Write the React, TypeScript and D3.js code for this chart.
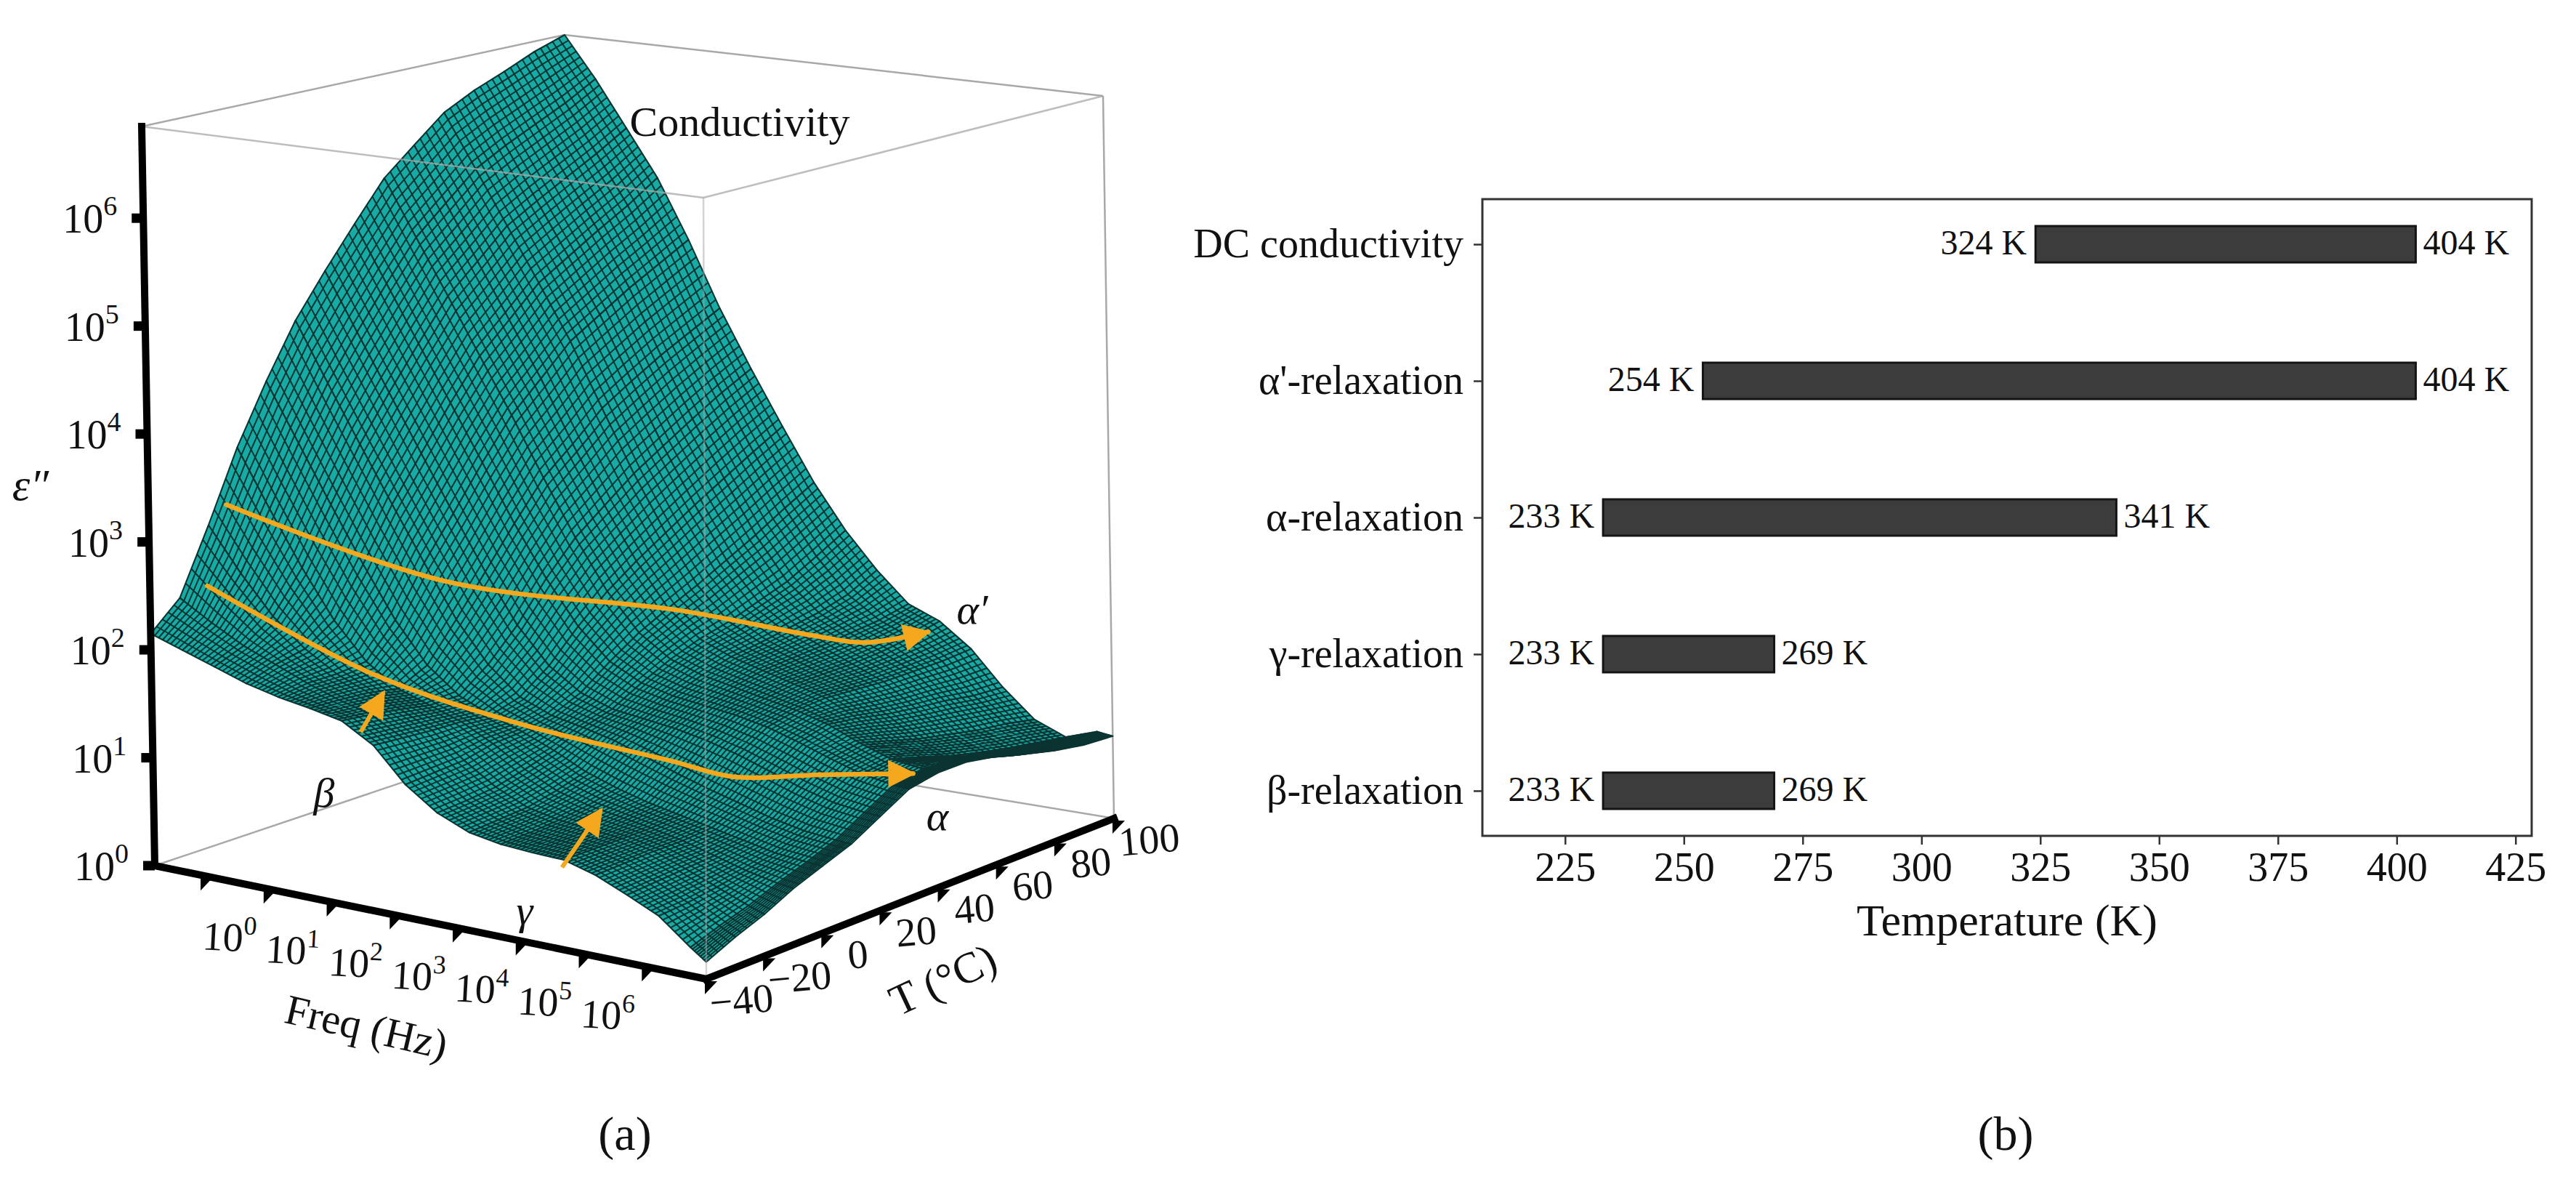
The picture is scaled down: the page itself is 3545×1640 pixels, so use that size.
import React, { useEffect, useRef } from 'react';
import * as d3 from 'd3';

// ---------- (a) loss surface: log10(eps'') over log10(freq) x temperature ----------
const logFreqs = [-1.75, -1.25, -0.75, -0.25, 0.25, 0.75, 1.25, 1.75, 2.25, 2.75, 3.25, 3.75, 4.25, 4.75, 5.25, 5.75, 6.25, 6.75, 7.0];
const temps = [-40, -30, -20, -10, 0, 10, 20, 30, 40, 50, 60, 70, 80, 90, 100];
// one row per temperature, one value per frequency column
const logEps: number[][] = [
  [2.15, 2.05, 1.95, 1.85, 1.78, 1.73, 1.67, 1.5, 1.2, 1.0, 0.88, 0.83, 0.81, 0.8, 0.72, 0.6, 0.47, 0.25, 0.15],
  [2.4, 2.22, 2.06, 1.94, 1.82, 1.72, 1.64, 1.48, 1.22, 1.02, 0.9, 0.84, 0.82, 0.8, 0.73, 0.62, 0.49, 0.34, 0.27],
  [3.0, 2.6, 2.25, 2.0, 1.82, 1.7, 1.6, 1.46, 1.24, 1.05, 0.92, 0.86, 0.83, 0.8, 0.74, 0.64, 0.53, 0.42, 0.37],
  [3.65, 3.12, 2.62, 2.18, 1.85, 1.65, 1.55, 1.45, 1.3, 1.12, 0.98, 0.9, 0.85, 0.8, 0.74, 0.66, 0.58, 0.52, 0.5],
  [4.2, 3.66, 3.13, 2.62, 2.15, 1.78, 1.55, 1.42, 1.32, 1.2, 1.06, 0.96, 0.88, 0.82, 0.76, 0.7, 0.64, 0.61, 0.6],
  [4.7, 4.15, 3.62, 3.1, 2.6, 2.12, 1.75, 1.5, 1.38, 1.32, 1.25, 1.15, 1.05, 0.96, 0.88, 0.8, 0.74, 0.71, 0.7],
  [5.1, 4.56, 4.03, 3.5, 2.98, 2.48, 2.03, 1.7, 1.5, 1.4, 1.36, 1.32, 1.26, 1.18, 1.08, 0.98, 0.9, 0.86, 0.85],
  [5.48, 4.95, 4.42, 3.9, 3.38, 2.85, 2.38, 1.98, 1.7, 1.55, 1.48, 1.44, 1.4, 1.34, 1.25, 1.15, 1.06, 1.01, 1.0],
  [5.85, 5.32, 4.8, 4.27, 3.75, 3.2, 2.68, 2.22, 1.88, 1.68, 1.58, 1.52, 1.46, 1.4, 1.32, 1.2, 1.1, 1.06, 1.05],
  [6.1, 5.58, 5.06, 4.54, 4.02, 3.44, 2.9, 2.42, 2.02, 1.78, 1.66, 1.58, 1.5, 1.42, 1.28, 1.12, 1.02, 1.03, 1.05],
  [6.35, 5.84, 5.33, 4.82, 4.3, 3.7, 3.12, 2.6, 2.15, 1.85, 1.7, 1.6, 1.5, 1.4, 1.22, 1.04, 0.93, 0.96, 1.0],
  [6.5, 6.0, 5.5, 5.0, 4.48, 3.88, 3.3, 2.78, 2.3, 1.95, 1.75, 1.62, 1.5, 1.38, 1.18, 0.98, 0.86, 0.88, 0.92],
  [6.62, 6.14, 5.66, 5.18, 4.66, 4.05, 3.48, 2.95, 2.45, 2.05, 1.8, 1.65, 1.52, 1.38, 1.15, 0.92, 0.8, 0.83, 0.85],
  [6.75, 6.28, 5.82, 5.35, 4.82, 4.2, 3.65, 3.12, 2.62, 2.2, 1.88, 1.68, 1.56, 1.38, 1.1, 0.88, 0.75, 0.8, 0.8],
  [6.85, 6.45, 6.0, 5.55, 4.98, 4.35, 3.8, 3.28, 2.78, 2.36, 2.02, 1.74, 1.62, 1.4, 1.08, 0.82, 0.7, 0.8, 0.78],
];

const freqTicks = [-1, 0, 1, 2, 3, 4, 5, 6];
const freqLabels = [0, 1, 2, 3, 4, 5, 6];
const tempLabels3d = [-40, -20, 0, 20, 40, 60, 80, 100];
const epsTicks = [0, 1, 2, 3, 4, 5, 6];

// annotation paths on the surface: [log10 f, T]
const alphaPrimePath: [number, number][] = [[-1.65, -16], [0.5, 12], [2.36, 52], [3.54, 72], [4.0, 80], [4.3, 95]];
const alphaPath: [number, number][] = [[-1.5, -26], [0.45, -12], [2.1, 2], [4.05, 12], [4.9, 15], [5.8, 25], [6.74, 37]];
// short arrows: [log10 f, T, log10 eps''] tail -> tip
const betaArrow: [number, number, number][] = [[1.55, -40, 1.6], [1.27, -26, 1.81]];
const gammaArrow: [number, number, number][] = [[4.72, -40, 0.73], [4.7, -26, 1.11]];

// ---------- (b) temperature ranges ----------
const processes = ['DC conductivity', "α'-relaxation", 'α-relaxation', 'γ-relaxation', 'β-relaxation'];
const startK = [324, 254, 233, 233, 233];
const endK = [404, 404, 341, 269, 269];
const kelvinTicks = [225, 250, 275, 300, 325, 350, 375, 400, 425];

// screen corners of the 3D box (bottom / top)
const BOX = {
  BL: [213, 1191], BF: [972, 1347], BB: [778, 1001], BR: [1533, 1126],
  TL: [195, 174], TF: [968, 272], TB: [777, 48], TR: [1518, 132],
};

const SERIF = "'Liberation Serif', 'Times New Roman', serif";
const TEAL = '#16aca5';
const MESH = '#0a3331';
const YELLOW = '#f5a81e';

type Sel = d3.Selection<SVGSVGElement, unknown, null, undefined>;

function drawSurface(svg: Sel) {
  const uS = d3.scaleLinear([-1.75, 7], [0, 1]);
  const vS = d3.scaleLinear([-40, 100], [0, 1]);
  const wS = d3.scaleLinear([0, 6.85], [0, 1]);

  const bil = (p00: number[], p10: number[], p01: number[], p11: number[], a: number, b: number) => [
    p00[0] * (1 - a) * (1 - b) + p10[0] * a * (1 - b) + p01[0] * (1 - a) * b + p11[0] * a * b,
    p00[1] * (1 - a) * (1 - b) + p10[1] * a * (1 - b) + p01[1] * (1 - a) * b + p11[1] * a * b,
  ];
  const project = (lf: number, t: number, le: number): [number, number] => {
    const a = uS(lf), b = vS(t), c = wS(le);
    const lo = bil(BOX.BL, BOX.BF, BOX.BB, BOX.BR, a, b);
    const hi = bil(BOX.TL, BOX.TF, BOX.TB, BOX.TR, a, b);
    return [lo[0] + c * (hi[0] - lo[0]), lo[1] + c * (hi[1] - lo[1])];
  };
  // height on the surface, used only to lay the annotation curves onto it
  const surfaceAt = (lf: number, t: number) => {
    const j = Math.max(0, Math.min(logFreqs.length - 2, d3.bisectRight(logFreqs, lf) - 1));
    const i = Math.max(0, Math.min(temps.length - 2, d3.bisectRight(temps, t) - 1));
    const a = (lf - logFreqs[j]) / (logFreqs[j + 1] - logFreqs[j]);
    const b = (t - temps[i]) / (temps[i + 1] - temps[i]);
    return logEps[i][j] * (1 - a) * (1 - b) + logEps[i][j + 1] * a * (1 - b) + logEps[i + 1][j] * (1 - a) * b + logEps[i + 1][j + 1] * a * b;
  };

  const g = svg.append('g');
  const P = (p: [number, number]) => `${p[0].toFixed(1)},${p[1].toFixed(1)}`;

  // back edges of the box
  const boxLine = (a: number[], b: number[], op = 1) =>
    g.append('line').attr('x1', a[0]).attr('y1', a[1]).attr('x2', b[0]).attr('y2', b[1])
      .attr('stroke', '#a8a8a8').attr('stroke-width', 2.5).attr('opacity', op);
  boxLine(BOX.TL, BOX.TB);
  boxLine(BOX.TB, BOX.TR);
  boxLine(BOX.TR, BOX.BR);
  boxLine(BOX.TB, BOX.BB);
  boxLine(BOX.BL, BOX.BB);
  boxLine(BOX.BB, BOX.BR);

  // surface cells, painted back to front
  const cells: { i: number; j: number; depth: number }[] = [];
  for (let i = 0; i < temps.length - 1; i++) {
    for (let j = 0; j < logFreqs.length - 1; j++) {
      const uc = (uS(logFreqs[j]) + uS(logFreqs[j + 1])) / 2;
      const vc = (vS(temps[i]) + vS(temps[i + 1])) / 2;
      cells.push({ i, j, depth: (1 - uc) * 1.15 + vc });
    }
  }
  cells.sort((a, b) => b.depth - a.depth);

  const NF = 8, NT = 5;
  const sg = g.append('g');
  cells.forEach(({ i, j }) => {
    const f0 = logFreqs[j], f1 = logFreqs[j + 1], t0 = temps[i], t1 = temps[i + 1];
    const z00 = logEps[i][j], z01 = logEps[i][j + 1], z10 = logEps[i + 1][j], z11 = logEps[i + 1][j + 1];
    const quad = [project(f0, t0, z00), project(f1, t0, z01), project(f1, t1, z11), project(f0, t1, z10)];
    sg.append('path')
      .attr('d', 'M' + quad.map(P).join('L') + 'Z')
      .attr('fill', TEAL).attr('stroke', MESH).attr('stroke-width', 2.1).attr('stroke-linejoin', 'round');
    let d = '';
    for (let k = 1; k < NF; k++) {
      const s = k / NF, lf = f0 + s * (f1 - f0);
      d += `M${P(project(lf, t0, z00 + s * (z01 - z00)))}L${P(project(lf, t1, z10 + s * (z11 - z10)))}`;
    }
    for (let k = 1; k < NT; k++) {
      const s = k / NT, t = t0 + s * (t1 - t0);
      d += `M${P(project(f0, t, z00 + s * (z10 - z00)))}L${P(project(f1, t, z01 + s * (z11 - z01)))}`;
    }
    sg.append('path').attr('d', d).attr('fill', 'none').attr('stroke', MESH).attr('stroke-width', 2);
  });

  // front edges of the box, seen through
  boxLine(BOX.TL, BOX.TF, 0.75);
  boxLine(BOX.TF, BOX.TR, 0.75);
  boxLine(BOX.TF, BOX.BF, 0.5);

  // annotation arrows
  const defs = svg.append('defs');
  defs.append('marker').attr('id', 'arrY').attr('viewBox', '0 0 10 10').attr('refX', 9).attr('refY', 5)
    .attr('markerUnits', 'userSpaceOnUse').attr('markerWidth', 46).attr('markerHeight', 38).attr('orient', 'auto')
    .append('path').attr('d', 'M0,0L10,5L0,10Z').attr('fill', YELLOW);
  const curve = d3.line<[number, number]>().curve(d3.curveCatmullRom.alpha(0.5));
  [alphaPrimePath, alphaPath].forEach((path) => {
    const pts = path.map(([lf, t]) => project(lf, t, surfaceAt(lf, t)));
    g.append('path').attr('d', curve(pts)).attr('fill', 'none').attr('stroke', YELLOW)
      .attr('stroke-width', 6.5).attr('stroke-linecap', 'round').attr('marker-end', 'url(#arrY)');
  });
  [betaArrow, gammaArrow].forEach((arr) => {
    const pts = arr.map(([lf, t, le]) => project(lf, t, le));
    g.append('path').attr('d', d3.line()(pts)).attr('fill', 'none').attr('stroke', YELLOW)
      .attr('stroke-width', 6).attr('marker-end', 'url(#arrY)');
  });

  // thick axes
  const axisLine = (a: number[], b: number[]) =>
    g.append('line').attr('x1', a[0]).attr('y1', a[1]).attr('x2', b[0]).attr('y2', b[1])
      .attr('stroke', '#000').attr('stroke-width', 10).attr('stroke-linecap', 'square');
  axisLine(BOX.BL, BOX.TL);
  axisLine(BOX.BL, BOX.BF);
  axisLine(BOX.BF, BOX.BR);

  // eps'' axis
  epsTicks.forEach((k) => {
    const [x, y] = project(-1.75, -40, k);
    g.append('line').attr('x1', x).attr('y1', y).attr('x2', x - 16).attr('y2', y)
      .attr('stroke', '#000').attr('stroke-width', 13);
    const t = g.append('text').attr('x', x - 36).attr('y', y + 20).attr('text-anchor', 'end')
      .attr('font-family', SERIF).attr('font-size', 56).attr('fill', '#111');
    t.append('tspan').text('10');
    t.append('tspan').attr('dy', -24).attr('font-size', 38).text(String(k));
  });
  g.append('text').attr('x', 42).attr('y', 688).attr('text-anchor', 'middle').attr('font-family', SERIF)
    .attr('font-style', 'italic').attr('font-size', 62).attr('fill', '#111').text('ε″');

  // teeth hanging under the floor axes
  const tooth = (x: number, y: number) =>
    g.append('path').attr('d', `M${x - 2},${y}L${x - 2},${y + 18}L${x + 15},${y}Z`).attr('fill', '#000');

  // frequency axis
  freqTicks.forEach((k) => {
    const [x, y] = project(k, -40, 0);
    tooth(x, y + 3);
  });
  freqLabels.forEach((k) => {
    const [x, y] = project(k, -40, 0);
    const cx = x - 50, cy = y + 86;
    const t = g.append('text').attr('x', cx).attr('y', cy).attr('text-anchor', 'middle')
      .attr('transform', `rotate(3,${cx},${cy})`)
      .attr('font-family', SERIF).attr('font-size', 56).attr('fill', '#111');
    t.append('tspan').text('10');
    t.append('tspan').attr('dy', -24).attr('font-size', 36).text(String(k));
  });
  g.append('text').attr('x', 500).attr('y', 1432).attr('text-anchor', 'middle')
    .attr('transform', 'rotate(13,500,1432)').attr('font-family', SERIF).attr('font-size', 58)
    .attr('fill', '#111').text('Freq (Hz)');

  // temperature axis
  tempLabels3d.forEach((k) => {
    const [x, y] = project(7, k, 0);
    tooth(x, y + 3);
    const cx = x + 50, cy = y + 48;
    g.append('text').attr('x', cx).attr('y', cy).attr('text-anchor', 'middle')
      .attr('transform', `rotate(-5,${cx},${cy})`)
      .attr('font-family', SERIF).attr('font-size', 56).attr('fill', '#111')
      .text(k < 0 ? `−${-k}` : String(k));
  });
  g.append('text').attr('x', 1306).attr('y', 1366).attr('text-anchor', 'middle')
    .attr('transform', 'rotate(-25,1306,1366)').attr('font-family', SERIF).attr('font-size', 60)
    .attr('fill', '#111').text('T (°C)');

  // labels on the plot
  const label = (x: number, y: number, s: string, italic = true, size = 58) =>
    g.append('text').attr('x', x).attr('y', y).attr('text-anchor', 'middle').attr('font-family', SERIF)
      .attr('font-style', italic ? 'italic' : 'normal').attr('font-size', size).attr('fill', '#111').text(s);
  label(1018, 187, 'Conductivity', false, 58);
  label(1338, 858, 'α′');
  label(1290, 1142, 'α');
  label(446, 1110, 'β');
  label(722, 1272, 'γ');
  label(860, 1582, '(a)', false, 66);
}

function drawBars(svg: Sel) {
  const left = 2040, right = 3484, top = 274, bottom = 1150;
  const x = d3.scaleLinear([207.6, 428.4], [left, right]);
  const y = d3.scalePoint(processes, [top, bottom]).padding(0.33);
  const barH = 50;
  const g = svg.append('g').attr('font-family', SERIF).attr('fill', '#111');

  g.append('rect').attr('x', left).attr('y', top).attr('width', right - left).attr('height', bottom - top)
    .attr('fill', 'none').attr('stroke', '#333').attr('stroke-width', 3);

  const xAxis = g.append('g').attr('transform', `translate(0,${bottom})`)
    .call(d3.axisBottom(x).tickValues(kelvinTicks).tickSize(12).tickPadding(10).tickFormat(d3.format('d')));
  xAxis.select('.domain').remove();
  xAxis.selectAll('line').attr('stroke', '#333').attr('stroke-width', 2.5);
  xAxis.selectAll('text').attr('font-family', SERIF).attr('font-size', 56).attr('fill', '#111');

  const yAxis = g.append('g').attr('transform', `translate(${left},0)`)
    .call(d3.axisLeft(y).tickSize(12).tickPadding(14));
  yAxis.select('.domain').remove();
  yAxis.selectAll('line').attr('stroke', '#333').attr('stroke-width', 2.5);
  yAxis.selectAll('text').attr('font-family', SERIF).attr('font-size', 56).attr('fill', '#111');

  g.selectAll('rect.bar').data(processes).enter().append('rect').attr('class', 'bar')
    .attr('x', (_, i) => x(startK[i]))
    .attr('y', (d) => (y(d) as number) - barH / 2)
    .attr('width', (_, i) => x(endK[i]) - x(startK[i]))
    .attr('height', barH)
    .attr('fill', '#3c3c3c').attr('stroke', '#141414').attr('stroke-width', 3);

  g.selectAll('text.lo').data(processes).enter().append('text').attr('class', 'lo')
    .attr('x', (_, i) => x(startK[i]) - 12).attr('y', (d) => (y(d) as number) + 14)
    .attr('text-anchor', 'end').attr('font-size', 48).text((_, i) => `${startK[i]} K`);
  g.selectAll('text.hi').data(processes).enter().append('text').attr('class', 'hi')
    .attr('x', (_, i) => x(endK[i]) + 10).attr('y', (d) => (y(d) as number) + 14)
    .attr('text-anchor', 'start').attr('font-size', 48).text((_, i) => `${endK[i]} K`);

  g.append('text').attr('x', (left + right) / 2).attr('y', 1287).attr('text-anchor', 'middle')
    .attr('font-size', 62).text('Temperature (K)');
  g.append('text').attr('x', 2760).attr('y', 1582).attr('text-anchor', 'middle')
    .attr('font-size', 66).text('(b)');
}

export default function App() {
  const ref = useRef<SVGSVGElement>(null);
  useEffect(() => {
    const svg = d3.select(ref.current as SVGSVGElement);
    svg.selectAll('*').remove();
    drawSurface(svg);
    drawBars(svg);
  }, []);
  return (
    <svg ref={ref} width={3545} height={1640}
      style={{ position: 'absolute', left: 0, top: 0, background: '#fff' }} />
  );
}
